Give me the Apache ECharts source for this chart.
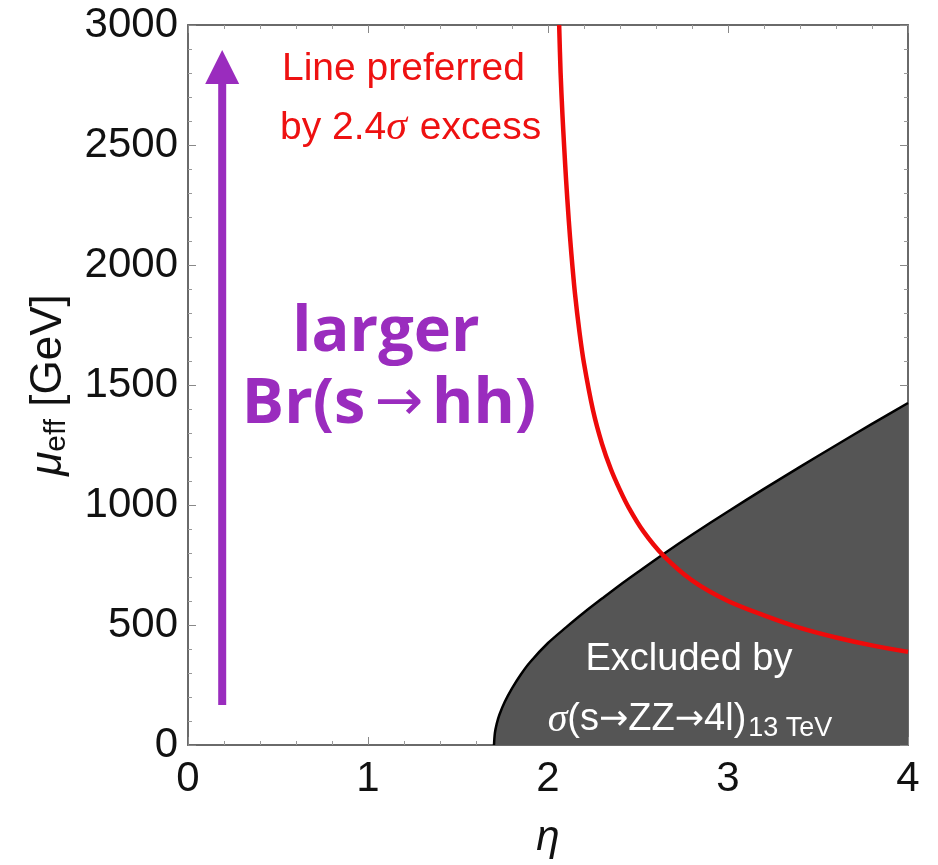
<!DOCTYPE html>
<html><head><meta charset="utf-8">
<script src="https://cdn.jsdelivr.net/npm/echarts@6/dist/echarts.min.js"></script>
<style>html,body{margin:0;padding:0;background:#fff}#c{width:938px;height:865px}</style>
</head><body><div id="c"></div>
<script>
// axis ticks
const xTickValues = [0, 1, 2, 3, 4];
const yTickValues = [0, 500, 1000, 1500, 2000, 2500, 3000];

// red line: preferred by 2.4 sigma excess
const redEta = [2.062, 2.070, 2.080, 2.090, 2.100, 2.115, 2.130, 2.150, 2.175, 2.200, 2.250, 2.300, 2.350, 2.400, 2.450, 2.530, 2.640, 2.800, 3.000, 3.200, 3.400, 3.600, 3.800, 4.000];
const redMu  = [3000, 2800, 2630, 2490, 2360, 2190, 2045, 1880, 1720, 1590, 1395, 1255, 1148, 1062, 987, 890, 790, 686, 600, 540, 488, 448, 415, 388];

// excluded region boundary (sigma(s->ZZ->4l) 13 TeV)
const exclEta = [1.700, 1.705, 1.715, 1.730, 1.760, 1.800, 1.850, 1.900, 2.000, 2.100, 2.200, 2.300, 2.400, 2.500, 2.640, 2.800, 3.000, 3.200, 3.400, 3.600, 3.800, 4.000];
const exclMu  = [0, 50, 88, 126, 180, 236, 295, 345, 425, 490, 552, 610, 667, 721, 795, 876, 973, 1067, 1159, 1249, 1338, 1425];

// purple arrow (eta, mu)
const arrowEta = 0.19;
const arrowMu = [167, 2896];

const chart = echarts.init(document.getElementById('c'), null, {renderer: 'canvas'});
const frameColor = '#6a6a6a';
const purple = '#9a2cbe';

function axisBase(pos, showLabel, isX) {
  return {
    type: 'value', position: pos,
    min: isX ? xTickValues[0] : yTickValues[0],
    max: isX ? xTickValues[xTickValues.length - 1] : yTickValues[yTickValues.length - 1],
    interval: isX ? 1 : 500,
    axisLine: {show: true, onZero: false, lineStyle: {color: frameColor, width: 2}},
    axisTick: {show: true, inside: true, length: 8, lineStyle: {color: '#888', width: 1}},
    minorTick: {show: true, splitNumber: 5, length: 4, lineStyle: {color: '#999', width: 1}},
    splitLine: {show: false},
    axisLabel: {show: showLabel, fontSize: 42, color: '#111', fontFamily: 'Liberation Sans',
                margin: isX ? 13 : 10, formatter: v => String(v)}
  };
}

const xBottom = Object.assign(axisBase('bottom', true, true), {
  name: 'η', nameLocation: 'middle', nameGap: 72,
  nameTextStyle: {fontSize: 42, fontStyle: 'italic', fontFamily: 'Liberation Sans', color: '#111'}
});
const xTop = axisBase('top', false, true);
const yLeft = Object.assign(axisBase('left', true, false), {
  name: '{mu|μ}{sub|eff}{t| [GeV]}', nameLocation: 'middle', nameGap: 116,
  nameTextStyle: {
    rich: {
      mu: {fontSize: 44, fontStyle: 'italic', fontFamily: 'Liberation Sans', color: '#111'},
      sub: {fontSize: 30, fontFamily: 'Liberation Sans', color: '#111', padding: [16, 0, 0, 0]},
      t: {fontSize: 44, fontFamily: 'Liberation Sans', color: '#111'}
    }
  }
});
const yRight = axisBase('right', false, false);

chart.setOption({
  animation: false,
  backgroundColor: '#fff',
  grid: {left: 188, top: 25, width: 720, height: 720, show: false},
  xAxis: [xBottom, xTop],
  yAxis: [yLeft, yRight],
  series: [
    {
      name: 'excluded', type: 'line', xAxisIndex: 0, yAxisIndex: 0,
      data: exclEta.map((e, i) => [e, exclMu[i]]),
      showSymbol: false, smooth: 0.3, z: 2,
      lineStyle: {color: '#000', width: 2.5},
      areaStyle: {color: '#555555', opacity: 1}
    },
    {
      name: 'preferred', type: 'line', xAxisIndex: 0, yAxisIndex: 0,
      data: redEta.map((e, i) => [e, redMu[i]]),
      showSymbol: false, smooth: 0.3, z: 3,
      lineStyle: {color: '#ee0a0a', width: 4.5}
    }
  ]
});

const P = (e, m) => chart.convertToPixel({gridIndex: 0}, [e, m]);
const aBot = P(arrowEta, arrowMu[0]);
const aTip = P(arrowEta, arrowMu[1]);
const headLen = 34, headHalf = 17;

chart.setOption({
  graphic: [
    {type: 'line', z: 10, shape: {x1: aBot[0], y1: aBot[1], x2: aTip[0], y2: aTip[1] + headLen - 2},
     style: {stroke: purple, lineWidth: 8}},
    {type: 'polygon', z: 10, shape: {points: [[aTip[0], aTip[1]], [aTip[0] - headHalf, aTip[1] + headLen], [aTip[0] + headHalf, aTip[1] + headLen]]},
     style: {fill: purple}},
    {type: 'text', z: 10, x: 386, y: 333, style: {text: 'larger', fill: purple, font: 'bold 63px "Open Sans"', align: 'center', verticalAlign: 'middle'}},
    {type: 'text', z: 10, x: 389, y: 405, style: {
      text: '{a|Br(s}{b|→}{a|hh)}', align: 'center', verticalAlign: 'middle',
      rich: {a: {fill: purple, font: 'bold 63px "Open Sans"'}, b: {fill: purple, font: '58px "DejaVu Sans"', padding: [0, 9, 0, 9]}}
    }},
    {type: 'text', z: 10, x: 282, y: 69, style: {text: 'Line preferred', fill: '#ee1111', font: '39px "Liberation Sans"', align: 'left', verticalAlign: 'middle'}},
    {type: 'text', z: 10, x: 280, y: 128, style: {
      text: '{a|by 2.4}{s|σ}{a| excess}', align: 'left', verticalAlign: 'middle',
      rich: {a: {fill: '#ee1111', font: '39px "Liberation Sans"'}, s: {fill: '#ee1111', font: 'italic 42px "Liberation Serif"', padding: [0, 2, 0, 0]}}
    }},
    {type: 'text', z: 10, x: 689, y: 660, style: {text: 'Excluded by', fill: '#fff', font: '38px "Liberation Sans"', align: 'center', verticalAlign: 'middle'}},
    {type: 'text', z: 10, x: 690, y: 720, style: {
      text: '{s|σ}{a|(s}{r|→}{a|ZZ}{r|→}{a|4l)}{b|13 TeV}', align: 'center', verticalAlign: 'middle',
      rich: {
        s: {fill: '#fff', font: 'italic 40px "Liberation Serif"'},
        a: {fill: '#fff', font: '38px "Liberation Sans"'},
        r: {fill: '#fff', font: '35px "DejaVu Sans"'},
        b: {fill: '#fff', font: '27px "Liberation Sans"', padding: [18, 0, 0, 2]}
      }
    }}
  ]
});
</script>
</body></html>
